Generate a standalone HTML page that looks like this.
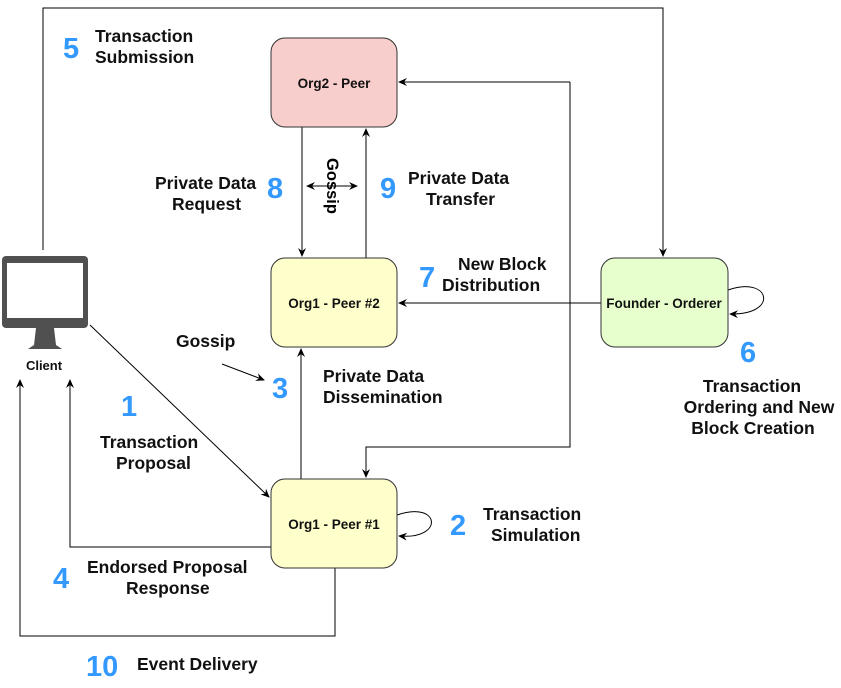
<!DOCTYPE html>
<html><head><style>
body{margin:0;background:#fff;width:841px;height:683px;overflow:hidden;font-family:"Liberation Sans",Arial,sans-serif}
svg text{font-family:"Liberation Sans",Arial,sans-serif;font-weight:bold}
</style></head><body>
<svg width="841" height="683" viewBox="0 0 841 683" xmlns="http://www.w3.org/2000/svg">
<defs><marker id="a" markerWidth="10" markerHeight="10" refX="8" refY="5" orient="auto" markerUnits="userSpaceOnUse"><path d="M0,1 L9,5 L0,9 L3,5 Z" fill="#000"/></marker></defs>
<g fill="none" stroke="#000" stroke-width="1">
<path d="M43,250 V8 H663 V256" marker-end="url(#a)"/>
<path d="M570,82 H399" marker-end="url(#a)"/>
<path d="M570,82 V447 H366 V477" marker-end="url(#a)"/>
<path d="M302,127 V256" marker-end="url(#a)"/>
<path d="M366,258 V129" marker-end="url(#a)"/>
<path d="M314,186 H357" marker-end="url(#a)"/>
<path d="M333,186 H307" marker-end="url(#a)"/>
<path d="M601,303 H399" marker-end="url(#a)"/>
<path d="M728,290 C770,275 780,315 730,314" marker-end="url(#a)"/>
<path d="M397,515 C440,500 445,540 399,536" marker-end="url(#a)"/>
<path d="M301,479 V349" marker-end="url(#a)"/>
<path d="M90,325 L269,497" marker-end="url(#a)"/>
<path d="M271,547 H70 V380" marker-end="url(#a)"/>
<path d="M335,568 V636 H20 V380" marker-end="url(#a)"/>
<path d="M222,364 L264,380" marker-end="url(#a)"/>
</g>
<rect x="271" y="38" width="126" height="89" rx="14" fill="#f8cecc" stroke="#333"/>
<rect x="271" y="258" width="126" height="89" rx="14" fill="#ffffcc" stroke="#333"/>
<rect x="271" y="479" width="126" height="89" rx="14" fill="#ffffcc" stroke="#333"/>
<rect x="601" y="258" width="127" height="89" rx="14" fill="#e6ffcc" stroke="#333"/>
<g font-size="13.5" text-anchor="middle" fill="#111">
<text x="334" y="88">Org2 - Peer</text>
<text x="334" y="308">Org1 - Peer #2</text>
<text x="334" y="529">Org1 - Peer #1</text>
<text x="664" y="308">Founder - Orderer</text>
<text x="44" y="370" font-size="13">Client</text>
</g>
<rect x="2" y="256" width="86" height="72" rx="4" fill="#505050"/>
<rect x="7" y="263" width="76" height="55" fill="#fff"/>
<path d="M36,328 H54 L56,345 L62,349 H28 L34,345 Z" fill="#505050"/>
<text x="333" y="186" font-size="16.5" text-anchor="middle" transform="rotate(90 333 186)" dy="6">Gossip</text>
<g font-size="29" fill="#3399ff">
<text x="63" y="58">5</text><text x="267" y="198">8</text><text x="380" y="198">9</text>
<text x="419" y="287">7</text><text x="740" y="362">6</text><text x="272" y="398">3</text>
<text x="121" y="416">1</text><text x="450" y="535">2</text><text x="53" y="588">4</text>
<text x="86" y="676">10</text>
</g>
<g font-size="17.5" fill="#111">
<text x="95" y="42">Transaction</text><text x="95" y="63">Submission</text>
<text x="155" y="189">Private Data</text><text x="172" y="210">Request</text>
<text x="408" y="184">Private Data</text><text x="426" y="205">Transfer</text>
<text x="458" y="270">New Block</text><text x="442" y="291">Distribution</text>
<text x="176" y="347">Gossip</text>
<text x="323" y="382">Private Data</text><text x="323" y="403">Dissemination</text>
<text x="100" y="448">Transaction</text><text x="116" y="469">Proposal</text>
<g text-anchor="middle"><text x="752" y="392">Transaction</text><text x="759" y="413">Ordering and New</text><text x="753" y="434">Block Creation</text></g>
<text x="483" y="520">Transaction</text><text x="491" y="541">Simulation</text>
<text x="87" y="573">Endorsed Proposal</text><text x="126" y="594">Response</text>
<text x="137" y="670">Event Delivery</text>
</g>
</svg>
</body></html>
